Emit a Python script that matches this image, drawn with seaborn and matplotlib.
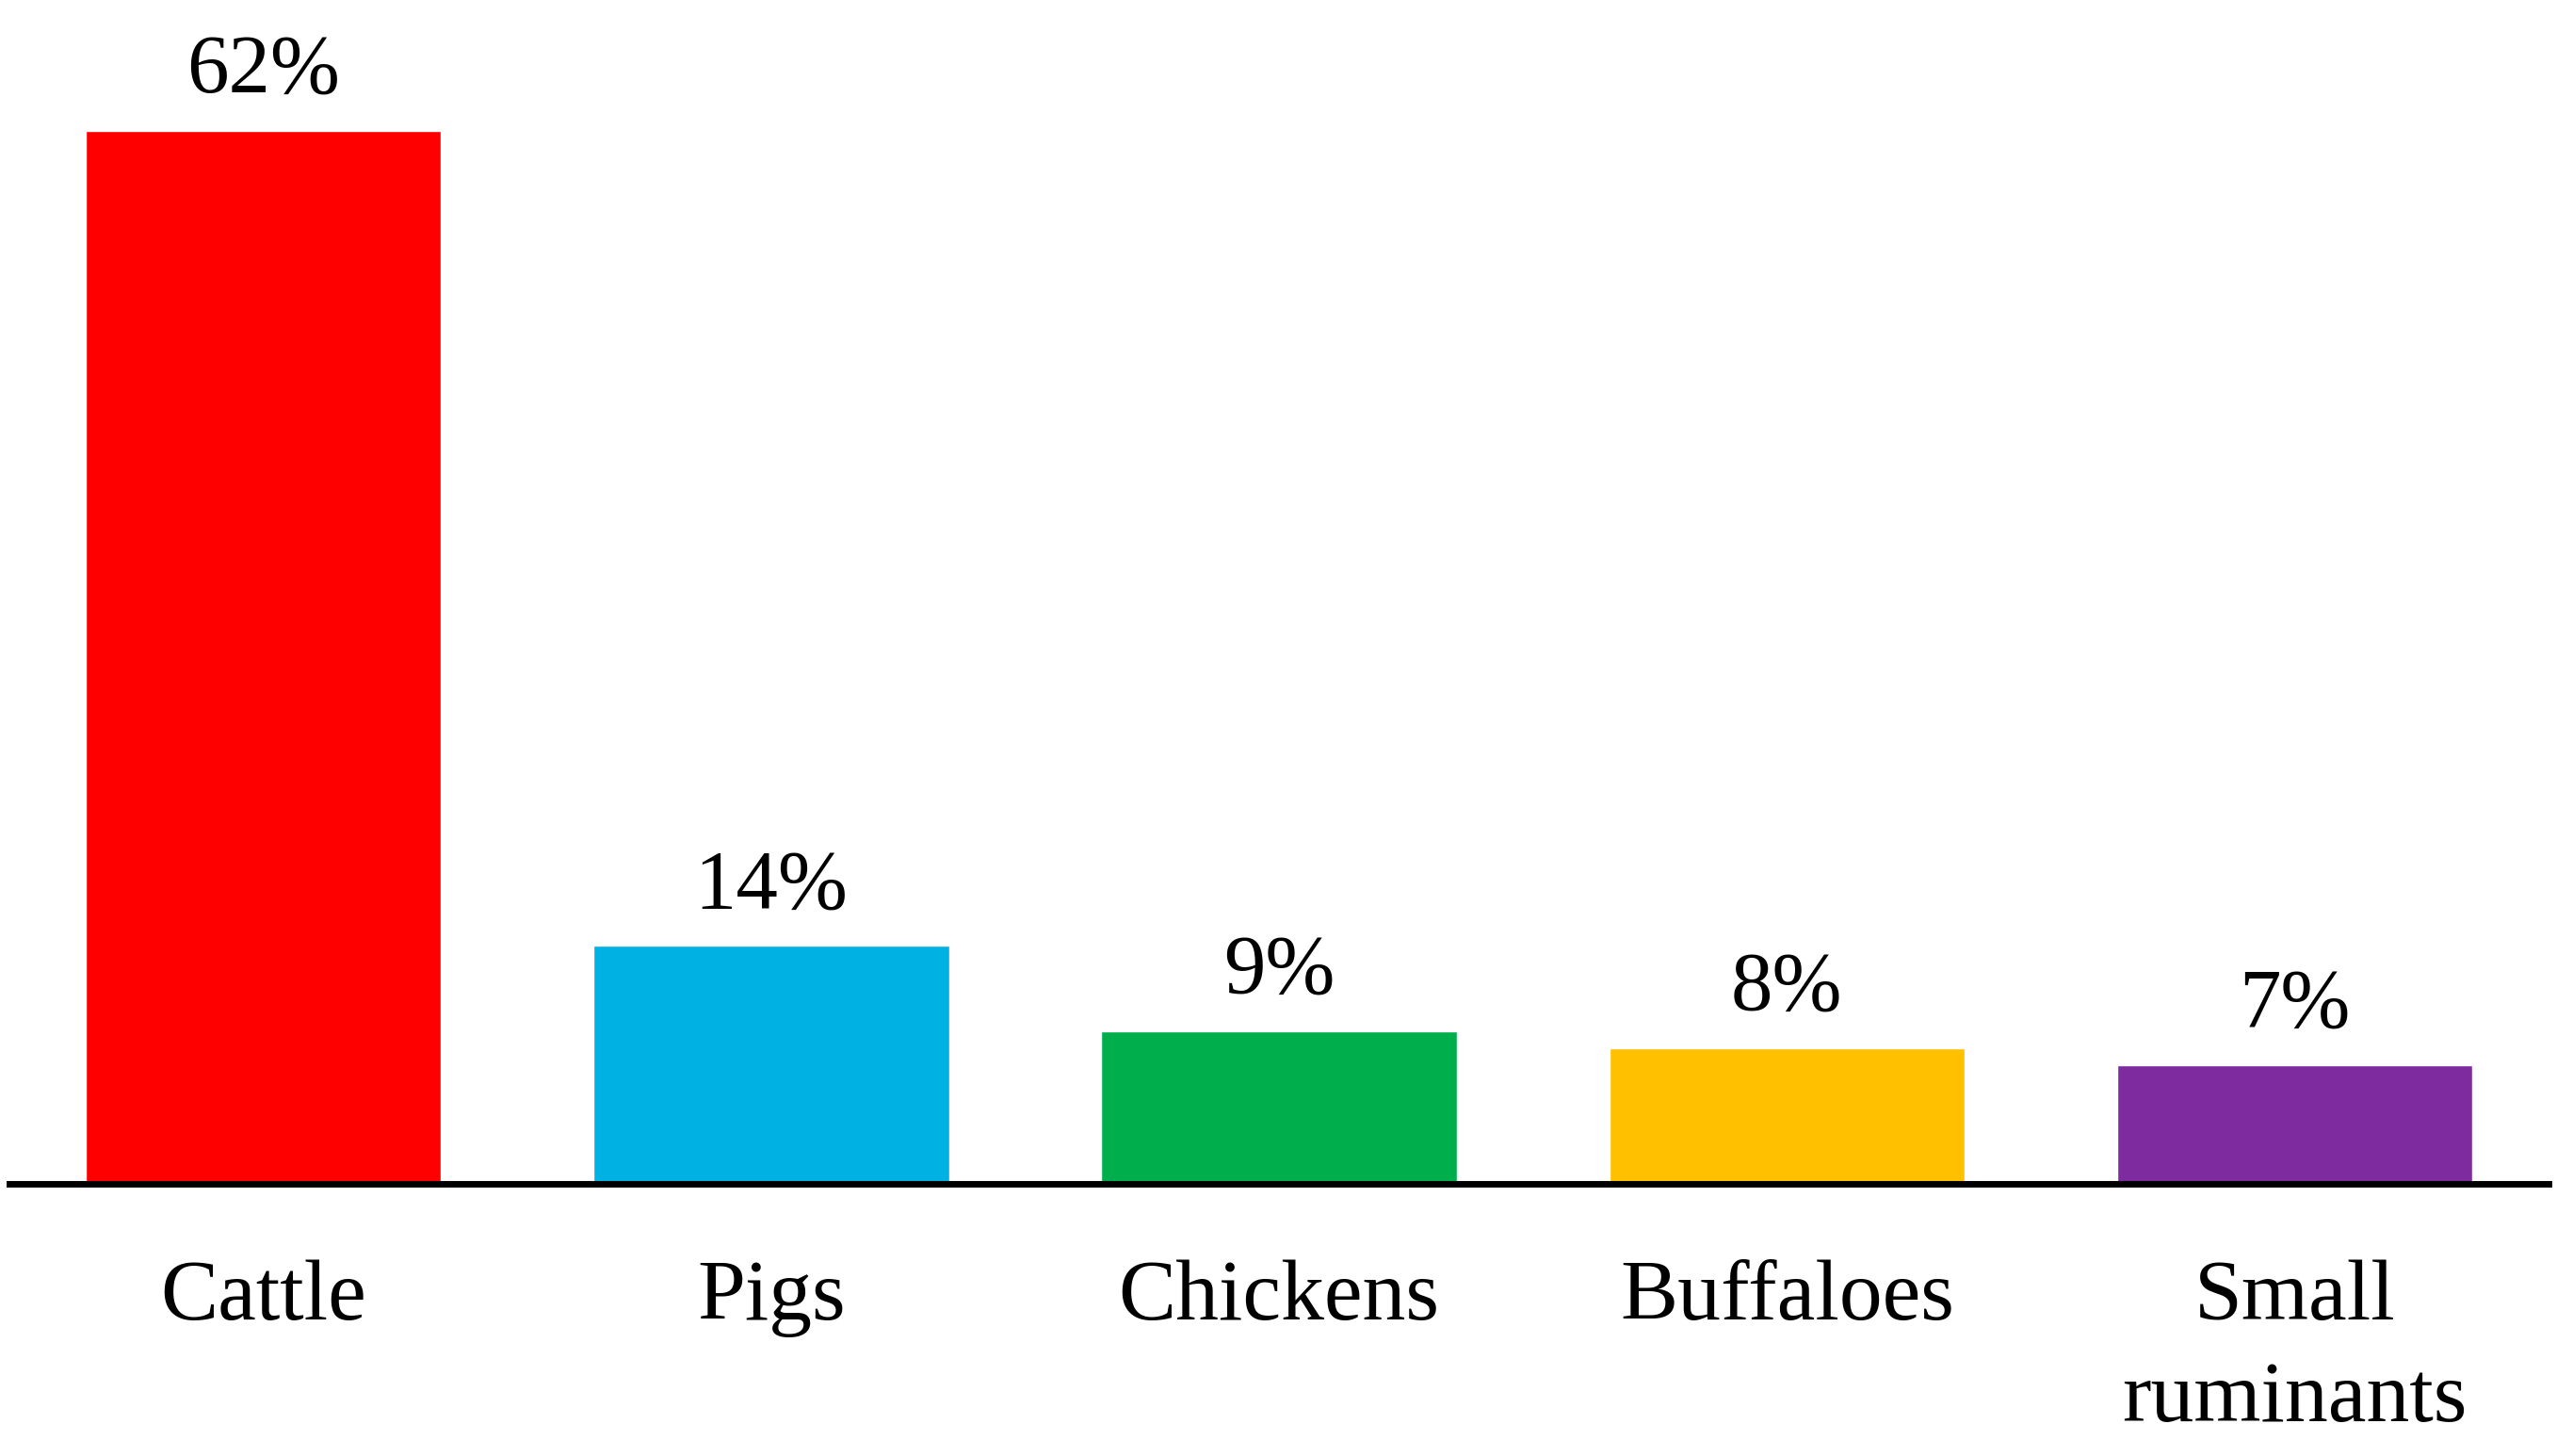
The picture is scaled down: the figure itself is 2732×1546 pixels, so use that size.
import matplotlib
matplotlib.use("Agg")
import matplotlib.pyplot as plt
import seaborn as sns
import pandas as pd

# data
categories = ["Cattle", "Pigs", "Chickens", "Buffaloes", "Small\nruminants"]
shares = [62, 14, 9, 8, 7]
bar_colors = ["#FF0000", "#00B2E3", "#00AF4B", "#FFC000", "#7F2BA0"]

df = pd.DataFrame({"species": categories, "share": shares})

sns.set_style("white")
plt.rcParams["font.family"] = ["Liberation Serif", "DejaVu Serif"]
plt.rcParams["text.color"] = "black"
plt.rcParams["xtick.color"] = "black"

fig = plt.figure(figsize=(27.32, 15.46), dpi=100)
ax = fig.add_axes([0.0037, 0.1870, 0.9868, 0.8130])

sns.barplot(data=df, x="species", y="share", hue="species",
            palette=bar_colors, saturation=1, width=0.7,
            legend=False, ax=ax)

for cont in ax.containers:
    ax.bar_label(cont, labels=[f"{int(v.get_height())}%" for v in cont],
                 padding=16, fontsize=64, color="black")

ax.set_xlim(-0.5, 4.5)
ax.set_ylim(0, 69.7)
ax.set_xlabel("")
ax.set_ylabel("")
ax.set_yticks([])
ax.tick_params(axis="x", length=0, pad=58, labelsize=66, labelcolor="black")
for lbl in ax.get_xticklabels():
    lbl.set_linespacing(1.4)

for s in ["top", "left", "right"]:
    ax.spines[s].set_visible(False)
ax.spines["bottom"].set_linewidth(5)
ax.spines["bottom"].set_color("black")

fig.savefig("out.png", dpi=100, facecolor="white")
